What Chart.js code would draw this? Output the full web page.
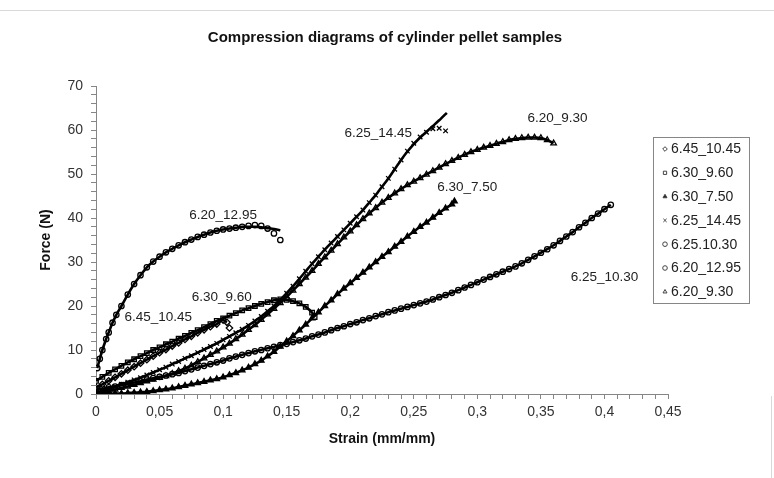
<!DOCTYPE html>
<html>
<head>
<meta charset="utf-8">
<title>Compression diagrams of cylinder pellet samples</title>
<script src="https://cdn.jsdelivr.net/npm/chart.js@4.4.1/dist/chart.umd.min.js"></script>
<style>
  html, body { margin: 0; padding: 0; background: #fff; }
  canvas { display: block; }
</style>
</head>
<body>
<canvas id="compression-chart" width="774" height="478"></canvas>
<script>
// sample names, in legend order
const sampleNames = ["6.45_10.45", "6.30_9.60", "6.30_7.50", "6.25_14.45", "6.25.10.30", "6.20_12.95", "6.20_9.30"];

// strain (mm/mm) / force (N) for each sample
const strain_645_1045 = [0, .005, .01, .015, .02, .025, .03, .035, .04, .045, .05, .055, .06, .065, .07, .075, .08, .085, .09, .095, .1, .103, .105];
const force_645_1045 = [1.5, 2.2, 3.0, 3.8, 4.6, 5.4, 6.2, 7.0, 7.8, 8.6, 9.4, 10.1, 10.9, 11.6, 12.4, 13.1, 13.9, 14.6, 15.3, 15.9, 16.8, 16.3, 15.0];

const strain_630_960 = [0, .005, .01, .015, .02, .025, .03, .035, .04, .045, .05, .055, .06, .065, .07, .075, .08, .085, .09, .095, .1, .105, .11, .115, .12, .125, .13, .135, .14, .145, .15, .155, .16, .165, .17, .172];
const force_630_960 = [3.0, 3.9, 4.8, 5.6, 6.4, 7.2, 7.9, 8.6, 9.3, 10.0, 10.6, 11.3, 11.9, 12.6, 13.2, 13.9, 14.5, 15.2, 15.9, 16.6, 17.2, 17.8, 18.4, 19.0, 19.5, 20.0, 20.5, 20.9, 21.3, 21.5, 21.4, 21.1, 20.6, 19.8, 18.5, 17.5];

const strain_630_750 = [0, .005, .01, .015, .02, .025, .03, .035, .04, .045, .05, .055, .06, .065, .07, .075, .08, .085, .09, .095, .1, .105, .11, .115, .12, .125, .13, .135, .14, .145, .15, .155, .16, .165, .17, .175, .18, .185, .19, .195, .2, .205, .21, .215, .22, .225, .23, .235, .24, .245, .25, .255, .26, .265, .27, .275, .28, .282];
const force_630_750 = [0, 0, 0, 0.1, 0.1, 0.2, 0.3, 0.4, 0.5, 0.7, 0.9, 1.1, 1.3, 1.6, 1.9, 2.2, 2.5, 2.8, 3.1, 3.4, 3.8, 4.3, 4.8, 5.4, 6.0, 6.8, 7.6, 8.6, 9.6, 10.8, 12.0, 13.2, 14.5, 15.8, 17.2, 18.6, 20.0, 21.3, 22.7, 24.0, 25.2, 26.4, 27.6, 28.8, 30.0, 31.2, 32.3, 33.5, 34.6, 35.8, 36.9, 38.0, 39.0, 40.1, 41.2, 42.2, 43.1, 43.8];

const strain_625_1445 = [0, .005, .01, .015, .02, .025, .03, .035, .04, .045, .05, .055, .06, .065, .07, .075, .08, .085, .09, .095, .1, .105, .11, .115, .12, .125, .13, .135, .14, .145, .15, .155, .16, .165, .17, .175, .18, .185, .19, .195, .2, .205, .21, .215, .22, .225, .23, .235, .24, .245, .25, .255, .26, .265, .27, .275];
const force_625_1445 = [0.3, 0.7, 1.2, 1.7, 2.2, 2.7, 3.2, 3.7, 4.3, 4.9, 5.5, 6.1, 6.8, 7.4, 8.1, 8.7, 9.4, 10.1, 10.8, 11.5, 12.3, 13.1, 13.9, 14.7, 15.6, 16.6, 17.6, 18.8, 20.0, 21.4, 22.9, 24.5, 26.2, 27.9, 29.6, 31.2, 32.8, 34.3, 35.8, 37.3, 38.8, 40.3, 41.8, 43.5, 45.2, 47.1, 49.0, 51.1, 53.2, 55.2, 57.0, 58.4, 59.5, 60.3, 60.4, 59.8];

const strain_625_1030 = [0, .005, .01, .015, .02, .025, .03, .035, .04, .045, .05, .055, .06, .065, .07, .075, .08, .085, .09, .095, .1, .105, .11, .115, .12, .125, .13, .135, .14, .145, .15, .155, .16, .165, .17, .175, .18, .185, .19, .195, .2, .205, .21, .215, .22, .225, .23, .235, .24, .245, .25, .255, .26, .265, .27, .275, .28, .285, .29, .295, .3, .305, .31, .315, .32, .325, .33, .335, .34, .345, .35, .355, .36, .365, .37, .375, .38, .385, .39, .395, .4, .405];
const force_625_1030 = [1.0, 1.2, 1.5, 1.7, 2.0, 2.3, 2.6, 2.9, 3.3, 3.6, 3.9, 4.2, 4.5, 4.8, 5.2, 5.6, 6.0, 6.4, 6.8, 7.2, 7.6, 8.1, 8.5, 8.9, 9.3, 9.7, 10.0, 10.4, 10.7, 11.1, 11.4, 11.8, 12.2, 12.6, 13.1, 13.5, 14.0, 14.5, 15.0, 15.4, 15.9, 16.3, 16.8, 17.2, 17.7, 18.1, 18.6, 19.0, 19.4, 19.8, 20.2, 20.6, 21.0, 21.5, 22.0, 22.5, 23.0, 23.6, 24.2, 24.8, 25.4, 26.0, 26.6, 27.2, 27.8, 28.4, 29.0, 29.7, 30.5, 31.3, 32.1, 32.9, 33.8, 34.8, 35.8, 36.8, 37.9, 38.9, 40.0, 41.0, 42.0, 43.0];

const strain_620_1295 = [.001, .003, .005, .008, .01, .013, .016, .02, .025, .03, .035, .04, .045, .05, .055, .06, .065, .07, .075, .08, .085, .09, .095, .1, .105, .11, .115, .12, .125, .13, .135, .14, .145];
const force_620_1295 = [5.9, 8.0, 10.0, 12.5, 14.0, 16.2, 18.0, 20.0, 22.6, 25.0, 27.0, 28.8, 30.1, 31.2, 32.2, 33.0, 33.8, 34.5, 35.1, 35.7, 36.2, 36.7, 37.1, 37.4, 37.6, 37.8, 38.0, 38.2, 38.4, 38.2, 37.6, 36.5, 35.0];

const strain_620_930 = [0, .005, .01, .015, .02, .025, .03, .035, .04, .045, .05, .055, .06, .065, .07, .075, .08, .085, .09, .095, .1, .105, .11, .115, .12, .125, .13, .135, .14, .145, .15, .155, .16, .165, .17, .175, .18, .185, .19, .195, .2, .205, .21, .215, .22, .225, .23, .235, .24, .245, .25, .255, .26, .265, .27, .275, .28, .285, .29, .295, .3, .305, .31, .315, .32, .325, .33, .335, .34, .345, .35, .355, .36];
const force_620_930 = [0, 0.3, 0.7, 1.0, 1.4, 1.7, 2.1, 2.5, 2.9, 3.3, 3.7, 4.1, 4.6, 5.2, 5.8, 6.5, 7.3, 8.1, 8.9, 9.7, 10.6, 11.5, 12.5, 13.5, 14.6, 15.7, 16.9, 18.1, 19.4, 20.7, 22.1, 23.5, 25.0, 26.5, 28.0, 29.6, 31.1, 32.6, 34.1, 35.6, 37.0, 38.4, 39.8, 41.1, 42.3, 43.5, 44.6, 45.6, 46.6, 47.5, 48.3, 49.1, 49.9, 50.7, 51.5, 52.3, 53.0, 53.7, 54.4, 55.0, 55.5, 56.0, 56.4, 56.9, 57.3, 57.7, 58.0, 58.2, 58.3, 58.3, 58.2, 57.7, 57.0];

// fitted curve ends where they leave the measured points
const trendStrain_620_1295 = [.12, .125, .13, .135, .14, .145];
const trendForce_620_1295 = [38.0, 38.0, 37.9, 37.7, 37.5, 37.2];
const trendStrain_625_1445 = [.245, .25, .255, .26, .265, .27, .276];
const trendForce_625_1445 = [55.1, 56.8, 58.3, 59.6, 60.9, 62.2, 63.9];

// curve captions
const captionTexts = ["6.20_12.95", "6.45_10.45", "6.30_9.60", "6.25_14.45", "6.30_7.50", "6.20_9.30", "6.25_10.30"];
const captionStrain = [0.100, 0.049, 0.099, 0.222, 0.292, 0.363, 0.400];
const captionForce = [40.7, 17.5, 22.0, 59.3, 47.0, 62.7, 26.6];

const pts = (xs, ys) => xs.map((x, i) => ({ x, y: ys[i] }));

const series = [
  { x: strain_645_1045, y: force_645_1045, style: "rectRot", r: 3.2, fill: "#fff", cut: 0.104 },
  { x: strain_630_960, y: force_630_960, style: "rect", r: 3.2, fill: "#fff" },
  { x: strain_630_750, y: force_630_750, style: "triangle", r: 3.2, fill: "#000" },
  { x: strain_625_1445, y: force_625_1445, style: "crossRot", r: 3.2, fill: "#fff", cut: 0.242, tx: trendStrain_625_1445, ty: trendForce_625_1445 },
  { x: strain_625_1030, y: force_625_1030, style: "circle", r: 2.7, fill: "#fff" },
  { x: strain_620_1295, y: force_620_1295, style: "circle", r: 2.7, fill: "#fff", cut: 0.118, tx: trendStrain_620_1295, ty: trendForce_620_1295 },
  { x: strain_620_930, y: force_620_930, style: "triangle", r: 3.2, fill: "#fff" },
];

const datasets = [];
series.forEach((s, i) => {
  datasets.push({
    label: sampleNames[i],
    data: pts(s.x, s.y),
    showLine: false,
    pointStyle: s.style,
    pointRadius: s.r,
    pointBorderWidth: 1.3,
    pointBorderColor: "#000",
    pointBackgroundColor: s.fill,
    order: 2,
  });
});
series.forEach((s, i) => {
  let line = pts(s.x, s.y);
  if (s.cut !== undefined) line = line.filter((p) => p.x < s.cut);
  if (s.tx) line = line.concat(pts(s.tx, s.ty));
  datasets.push({
    label: "fit " + sampleNames[i],
    data: line,
    showLine: true,
    borderColor: "#000",
    borderWidth: 2.6,
    tension: 0.2,
    pointRadius: 0,
    order: 1,
  });
});

const isMajor = (v, step) => Math.abs(v / step - Math.round(v / step)) < 1e-6;
const FONT = "'Liberation Sans', Arial, sans-serif";

// title, captions, legend box and frame lines
const decorations = {
  id: "decorations",
  afterDraw(chart) {
    const { ctx, scales } = chart;
    ctx.save();

    ctx.strokeStyle = "#d9d9d9";
    ctx.lineWidth = 1;
    ctx.beginPath();
    ctx.moveTo(0, 10.5);
    ctx.lineTo(774, 10.5);
    ctx.moveTo(771.5, 396);
    ctx.lineTo(771.5, 478);
    ctx.stroke();

    ctx.fillStyle = "#111";
    ctx.font = "bold 15px " + FONT;
    ctx.textAlign = "center";
    ctx.textBaseline = "middle";
    ctx.fillText("Compression diagrams of cylinder pellet samples", 385, 38);

    ctx.font = "13.5px " + FONT;
    ctx.fillStyle = "#222";
    captionTexts.forEach((t, i) => {
      ctx.fillText(t, scales.x.getPixelForValue(captionStrain[i]), scales.y.getPixelForValue(captionForce[i]));
    });

    // legend
    ctx.fillStyle = "#fff";
    ctx.fillRect(653.5, 137.5, 96, 166);
    ctx.strokeStyle = "#868686";
    ctx.strokeRect(653.5, 137.5, 96, 166);
    ctx.textAlign = "left";
    ctx.font = "14px " + FONT;
    series.forEach((s, i) => {
      const y = 149 + i * 23.8;
      ctx.strokeStyle = "#444";
      ctx.fillStyle = s.fill === "#fff" ? "#fff" : "#222";
      ctx.lineWidth = 1;
      Chart.helpers.drawPoint(ctx, { pointStyle: s.style, radius: 2.3, rotation: 0, borderWidth: 1 }, 665, y);
      ctx.fillStyle = "#222";
      ctx.fillText(sampleNames[i], 671, y + 0.5);
    });
    ctx.restore();
  },
};

new Chart(document.getElementById("compression-chart"), {
  type: "scatter",
  data: { datasets },
  plugins: [decorations],
  options: {
    responsive: false,
    animation: false,
    devicePixelRatio: 1,
    layout: { padding: { top: 86, right: 106, left: 0, bottom: 0 } },
    plugins: { legend: { display: false }, tooltip: { enabled: false } },
    scales: {
      x: {
        type: "linear",
        min: 0,
        max: 0.45,
        afterFit: (scale) => { scale.height = 84; },
        border: { color: "#868686", width: 1 },
        grid: { drawOnChartArea: false, drawTicks: true, tickLength: 5, color: "#868686" },
        ticks: {
          stepSize: 0.01,
          autoSkip: false,
          maxRotation: 0,
          padding: 5,
          color: "#333",
          font: { family: FONT, size: 14 },
          callback: (v) => (isMajor(v, 0.05) ? String(+v.toFixed(2)).replace(".", ",") : ""),
        },
        title: {
          display: true,
          text: "Strain (mm/mm)",
          color: "#111",
          font: { family: FONT, size: 14, weight: "bold" },
          padding: { top: 0, bottom: 30 },
        },
      },
      y: {
        type: "linear",
        min: 0,
        max: 70,
        afterFit: (scale) => { scale.width = 96; },
        border: { color: "#868686", width: 1 },
        grid: { drawOnChartArea: false, drawTicks: true, tickLength: 5, color: "#868686" },
        ticks: {
          stepSize: 2,
          autoSkip: false,
          padding: 8,
          color: "#333",
          font: { family: FONT, size: 14 },
          callback: (v) => (isMajor(v, 10) ? String(Math.round(v)) : ""),
        },
        title: {
          display: true,
          text: "Force (N)",
          color: "#111",
          font: { family: FONT, size: 14, weight: "bold" },
          padding: { top: 38, bottom: 0 },
        },
      },
    },
  },
});
</script>
</body>
</html>
